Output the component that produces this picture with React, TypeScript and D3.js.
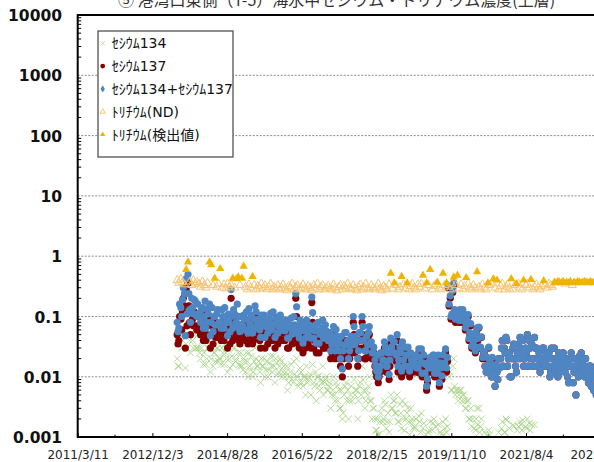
import { useEffect, useRef } from "react";
import * as d3 from "d3";

// sampling dates, 1st and 15th of each month
const sampleDates = [
  "2013/7/1","2013/7/15","2013/8/1","2013/8/15","2013/9/1","2013/9/15","2013/10/1","2013/10/15","2013/11/1","2013/11/15","2013/12/1","2013/12/15",
  "2014/1/1","2014/1/15","2014/2/1","2014/2/15","2014/3/1","2014/3/15","2014/4/1","2014/4/15","2014/5/1","2014/5/15","2014/6/1","2014/6/15",
  "2014/7/1","2014/7/15","2014/8/1","2014/8/15","2014/9/1","2014/9/15","2014/10/1","2014/10/15","2014/11/1","2014/11/15","2014/12/1","2014/12/15",
  "2015/1/1","2015/1/15","2015/2/1","2015/2/15","2015/3/1","2015/3/15","2015/4/1","2015/4/15","2015/5/1","2015/5/15","2015/6/1","2015/6/15",
  "2015/7/1","2015/7/15","2015/8/1","2015/8/15","2015/9/1","2015/9/15","2015/10/1","2015/10/15","2015/11/1","2015/11/15","2015/12/1","2015/12/15",
  "2016/1/1","2016/1/15","2016/2/1","2016/2/15","2016/3/1","2016/3/15","2016/4/1","2016/4/15","2016/5/1","2016/5/15","2016/6/1","2016/6/15",
  "2016/7/1","2016/7/15","2016/8/1","2016/8/15","2016/9/1","2016/9/15","2016/10/1","2016/10/15","2016/11/1","2016/11/15","2016/12/1","2016/12/15",
  "2017/1/1","2017/1/15","2017/2/1","2017/2/15","2017/3/1","2017/3/15","2017/4/1","2017/4/15","2017/5/1","2017/5/15","2017/6/1","2017/6/15",
  "2017/7/1","2017/7/15","2017/8/1","2017/8/15","2017/9/1","2017/9/15","2017/10/1","2017/10/15","2017/11/1","2017/11/15","2017/12/1","2017/12/15",
  "2018/1/1","2018/1/15","2018/2/1","2018/2/15","2018/3/1","2018/3/15","2018/4/1","2018/4/15","2018/5/1","2018/5/15","2018/6/1","2018/6/15",
  "2018/7/1","2018/7/15","2018/8/1","2018/8/15","2018/9/1","2018/9/15","2018/10/1","2018/10/15","2018/11/1","2018/11/15","2018/12/1","2018/12/15",
  "2019/1/1","2019/1/15","2019/2/1","2019/2/15","2019/3/1","2019/3/15","2019/4/1","2019/4/15","2019/5/1","2019/5/15","2019/6/1","2019/6/15",
  "2019/7/1","2019/7/15","2019/8/1","2019/8/15","2019/9/1","2019/9/15","2019/10/1","2019/10/15","2019/11/1","2019/11/15","2019/12/1","2019/12/15",
  "2020/1/1","2020/1/15","2020/2/1","2020/2/15","2020/3/1","2020/3/15","2020/4/1","2020/4/15","2020/5/1","2020/5/15","2020/6/1","2020/6/15",
  "2020/7/1","2020/7/15","2020/8/1","2020/8/15","2020/9/1","2020/9/15","2020/10/1","2020/10/15","2020/11/1","2020/11/15","2020/12/1","2020/12/15",
  "2021/1/1","2021/1/15","2021/2/1","2021/2/15","2021/3/1","2021/3/15","2021/4/1","2021/4/15","2021/5/1","2021/5/15","2021/6/1","2021/6/15",
  "2021/7/1","2021/7/15","2021/8/1","2021/8/15","2021/9/1","2021/9/15","2021/10/1","2021/10/15","2021/11/1","2021/11/15","2021/12/1","2021/12/15",
  "2022/1/1","2022/1/15","2022/2/1","2022/2/15","2022/3/1","2022/3/15","2022/4/1","2022/4/15","2022/5/1","2022/5/15","2022/6/1","2022/6/15",
  "2022/7/1","2022/7/15","2022/8/1","2022/8/15","2022/9/1","2022/9/15","2022/10/1","2022/10/15","2022/11/1","2022/11/15","2022/12/1","2022/12/15",
  "2023/1/1","2023/1/15","2023/2/1","2023/2/15","2023/3/1","2023/3/15",
];

// Bq/L, null = not detected
const cs134 = [
  0.02, 0.015, 0.05, 0.04, 0.06, 0.14, 0.12, 0.04, 0.07, 0.03, 0.05, 0.03,
  0.03, 0.02, 0.04, 0.025, 0.016, 0.03, 0.04, 0.02, 0.015, 0.025, 0.03, 0.018,
  0.02, 0.03, 0.016, 0.025, 0.012, 0.02, 0.06, 0.016, 0.03, 0.02, 0.025, 0.015,
  0.015, 0.02, 0.012, 0.018, 0.025, 0.013, 0.01, 0.018, 0.02, 0.015, 0.012, 0.02,
  0.015, 0.01, 0.018, 0.013, 0.022, 0.012, 0.015, 0.02, 0.011, 0.015, 0.018, 0.012,
  0.01, 0.015, 0.008, 0.012, 0.009, 0.018, 0.03, 0.01, 0.008, 0.012, 0.007, 0.01,
  0.015, 0.009, 0.011, 0.03, 0.008, 0.012, 0.01, 0.007, 0.009, 0.015, 0.008, 0.01,
  0.006, 0.008, 0.005, 0.01, 0.004, 0.007, 0.006, 0.003, 0.002, 0.005, 0.008, 0.006,
  0.004, 0.007, 0.02, 0.005, 0.006, 0.004, 0.008, 0.015, 0.006, 0.004, 0.005, 0.01,
  0.004, 0.003, 0.002, 0.0013, 0.0011, 0.0018, 0.003, 0.002, 0.0035, 0.0018, 0.0012, 0.005,
  0.003, 0.004, 0.0025, 0.0018, 0.0035, 0.0014, 0.002, 0.0035, 0.0025, 0.0018, 0.003, 0.002,
  0.0015, 0.002, null, 0.0018, 0.0025, 0.0014, null, null, 0.0012, 0.0018, 0.0013, 0.002,
  0.0015, null, null, 0.0011, 0.0018, 0.0014, 0.0012, 0.02, 0.012, 0.006, 0.02, 0.005,
  0.006, 0.005, 0.006, 0.005, 0.004, 0.003, 0.004, 0.002, 0.0015, null, 0.0013, 0.003,
  0.003, 0.0015, null, 0.0012, null, null, 0.0011, null, null, null, null, 0.0012,
  null, 0.0018, 0.0012, 0.002, null, 0.0014, null, 0.0016, null, null, 0.0015, 0.0018,
  0.0013, null, 0.0015, 0.002, 0.0017, null, null, 0.0016, null, null, null, null,
  null, null, null, null, null, null, null, null, null, null, null, null,
  null, null, null, null, null, null, null, null, null, null, null, null,
  null, null, null, null, null, null,
];

const cs137 = [
  0.05, 0.04, 0.09, 0.12, 0.15, 0.28, 0.36, 0.08, 0.13, 0.07, 0.11, 0.06,
  0.07, 0.05, 0.09, 0.06, 0.04, 0.08, 0.1, 0.05, 0.035, 0.06, 0.07, 0.045,
  0.05, 0.08, 0.04, 0.06, 0.03, 0.05, 0.2, 0.04, 0.07, 0.05, 0.06, 0.035,
  0.05, 0.07, 0.04, 0.06, 0.09, 0.045, 0.035, 0.06, 0.08, 0.05, 0.04, 0.07,
  0.055, 0.03, 0.06, 0.045, 0.075, 0.04, 0.05, 0.065, 0.035, 0.05, 0.06, 0.04,
  0.04, 0.06, 0.03, 0.05, 0.035, 0.07, 0.2, 0.04, 0.03, 0.05, 0.025, 0.04,
  0.06, 0.035, 0.045, 0.17, 0.03, 0.05, 0.04, 0.025, 0.035, 0.06, 0.03, 0.04,
  0.03, 0.04, 0.025, 0.05, 0.02, 0.035, 0.03, 0.015, 0.01, 0.025, 0.04, 0.03,
  0.02, 0.035, 0.08, 0.025, 0.03, 0.02, 0.04, 0.08, 0.03, 0.02, 0.025, 0.05,
  0.03, 0.02, 0.015, 0.01, 0.008, 0.012, 0.02, 0.015, 0.025, 0.012, 0.009, 0.035,
  0.02, 0.03, 0.018, 0.012, 0.025, 0.01, 0.015, 0.025, 0.018, 0.012, 0.02, 0.015,
  0.015, 0.02, 0.012, 0.018, 0.025, 0.015, 0.01, 0.006, 0.012, 0.018, 0.014, 0.02,
  0.016, 0.01, 0.007, 0.012, 0.02, 0.015, 0.012, 0.3, 0.2, 0.1, 0.33, 0.08,
  0.1, 0.08, 0.11, 0.12, 0.09, 0.07, 0.1, 0.05, 0.03, 0.035, 0.025, 0.06,
  0.065, 0.03, 0.02, 0.025, 0.012, 0.015, 0.018, 0.01, 0.015, 0.007, 0.012, 0.02,
  0.02, 0.04, 0.03, 0.045, 0.015, 0.025, 0.01, 0.03, 0.02, 0.012, 0.035, 0.045,
  0.025, 0.015, 0.03, 0.05, 0.04, 0.02, 0.015, 0.045, 0.03, 0.02, 0.012, 0.018,
  0.03, 0.02, 0.015, 0.025, 0.012, 0.02, 0.03, 0.018, 0.01, 0.015, 0.02, 0.025,
  0.012, 0.018, 0.008, 0.015, 0.02, 0.012, 0.005, 0.015, 0.022, 0.025, 0.012, 0.01,
  0.012, 0.008, 0.015, 0.01, 0.006, 0.009,
];

const csTotal = [
  0.08, 0.064, 0.14, 0.19, 0.24, 0.42, 0.5, 0.13, 0.2, 0.11, 0.18, 0.1,
  0.11, 0.08, 0.14, 0.1, 0.064, 0.13, 0.16, 0.08, 0.056, 0.1, 0.11, 0.072,
  0.08, 0.13, 0.064, 0.1, 0.048, 0.08, 0.28, 0.064, 0.11, 0.08, 0.1, 0.056,
  0.075, 0.105, 0.06, 0.09, 0.135, 0.068, 0.053, 0.09, 0.12, 0.075, 0.06, 0.105,
  0.083, 0.045, 0.09, 0.068, 0.113, 0.06, 0.075, 0.098, 0.053, 0.075, 0.09, 0.06,
  0.058, 0.087, 0.044, 0.073, 0.051, 0.1, 0.24, 0.058, 0.044, 0.073, 0.036, 0.058,
  0.087, 0.051, 0.065, 0.21, 0.044, 0.073, 0.058, 0.036, 0.051, 0.087, 0.044, 0.058,
  0.04, 0.054, 0.034, 0.068, 0.027, 0.047, 0.04, 0.02, 0.0135, 0.034, 0.054, 0.04,
  0.027, 0.047, 0.1, 0.034, 0.04, 0.027, 0.054, 0.1, 0.04, 0.027, 0.034, 0.068,
  0.038, 0.025, 0.019, 0.0125, 0.01, 0.015, 0.025, 0.019, 0.031, 0.015, 0.011, 0.044,
  0.025, 0.038, 0.023, 0.015, 0.031, 0.0125, 0.019, 0.031, 0.023, 0.015, 0.025, 0.019,
  0.017, 0.023, 0.014, 0.021, 0.029, 0.017, 0.0115, 0.007, 0.014, 0.021, 0.016, 0.023,
  0.018, 0.0115, 0.008, 0.014, 0.023, 0.017, 0.014, 0.33, 0.22, 0.11, 0.36, 0.09,
  0.108, 0.086, 0.12, 0.13, 0.097, 0.076, 0.108, 0.054, 0.032, 0.038, 0.027, 0.065,
  0.067, 0.031, 0.021, 0.026, 0.012, 0.015, 0.018, 0.01, 0.015, 0.007, 0.012, 0.02,
  0.02, 0.04, 0.03, 0.045, 0.015, 0.025, 0.01, 0.03, 0.02, 0.012, 0.035, 0.045,
  0.025, 0.015, 0.03, 0.05, 0.04, 0.02, 0.015, 0.045, 0.03, 0.02, 0.012, 0.018,
  0.03, 0.02, 0.015, 0.025, 0.012, 0.02, 0.03, 0.018, 0.01, 0.015, 0.02, 0.025,
  0.012, 0.018, 0.008, 0.015, 0.02, 0.012, 0.005, 0.015, 0.022, 0.025, 0.012, 0.01,
  0.012, 0.008, 0.015, 0.01, 0.006, 0.009,
];

// in-between cesium samples, 8th and 22nd of each month
const sampleDatesWk = [
  "2013/7/8","2013/7/22","2013/8/8","2013/8/22","2013/9/8","2013/9/22","2013/10/8","2013/10/22","2013/11/8","2013/11/22","2013/12/8","2013/12/22",
  "2014/1/8","2014/1/22","2014/2/8","2014/2/22","2014/3/8","2014/3/22","2014/4/8","2014/4/22","2014/5/8","2014/5/22","2014/6/8","2014/6/22",
  "2014/7/8","2014/7/22","2014/8/8","2014/8/22","2014/9/8","2014/9/22","2014/10/8","2014/10/22","2014/11/8","2014/11/22","2014/12/8","2014/12/22",
  "2015/1/8","2015/1/22","2015/2/8","2015/2/22","2015/3/8","2015/3/22","2015/4/8","2015/4/22","2015/5/8","2015/5/22","2015/6/8","2015/6/22",
  "2015/7/8","2015/7/22","2015/8/8","2015/8/22","2015/9/8","2015/9/22","2015/10/8","2015/10/22","2015/11/8","2015/11/22","2015/12/8","2015/12/22",
  "2016/1/8","2016/1/22","2016/2/8","2016/2/22","2016/3/8","2016/3/22","2016/4/8","2016/4/22","2016/5/8","2016/5/22","2016/6/8","2016/6/22",
  "2016/7/8","2016/7/22","2016/8/8","2016/8/22","2016/9/8","2016/9/22","2016/10/8","2016/10/22","2016/11/8","2016/11/22","2016/12/8","2016/12/22",
  "2017/1/8","2017/1/22","2017/2/8","2017/2/22","2017/3/8","2017/3/22","2017/4/8","2017/4/22","2017/5/8","2017/5/22","2017/6/8","2017/6/22",
  "2017/7/8","2017/7/22","2017/8/8","2017/8/22","2017/9/8","2017/9/22","2017/10/8","2017/10/22","2017/11/8","2017/11/22","2017/12/8","2017/12/22",
  "2018/1/8","2018/1/22","2018/2/8","2018/2/22","2018/3/8","2018/3/22","2018/4/8","2018/4/22","2018/5/8","2018/5/22","2018/6/8","2018/6/22",
  "2018/7/8","2018/7/22","2018/8/8","2018/8/22","2018/9/8","2018/9/22","2018/10/8","2018/10/22","2018/11/8","2018/11/22","2018/12/8","2018/12/22",
  "2019/1/8","2019/1/22","2019/2/8","2019/2/22","2019/3/8","2019/3/22","2019/4/8","2019/4/22","2019/5/8","2019/5/22","2019/6/8","2019/6/22",
  "2019/7/8","2019/7/22","2019/8/8","2019/8/22","2019/9/8","2019/9/22","2019/10/8","2019/10/22","2019/11/8","2019/11/22","2019/12/8","2019/12/22",
  "2020/1/8","2020/1/22","2020/2/8","2020/2/22","2020/3/8","2020/3/22","2020/4/8","2020/4/22","2020/5/8","2020/5/22","2020/6/8","2020/6/22",
  "2020/7/8","2020/7/22","2020/8/8","2020/8/22","2020/9/8","2020/9/22","2020/10/8","2020/10/22","2020/11/8","2020/11/22","2020/12/8","2020/12/22",
  "2021/1/8","2021/1/22","2021/2/8","2021/2/22","2021/3/8","2021/3/22","2021/4/8","2021/4/22","2021/5/8","2021/5/22","2021/6/8","2021/6/22",
  "2021/7/8","2021/7/22","2021/8/8","2021/8/22","2021/9/8","2021/9/22","2021/10/8","2021/10/22","2021/11/8","2021/11/22","2021/12/8","2021/12/22",
  "2022/1/8","2022/1/22","2022/2/8","2022/2/22","2022/3/8","2022/3/22","2022/4/8","2022/4/22","2022/5/8","2022/5/22","2022/6/8","2022/6/22",
  "2022/7/8","2022/7/22","2022/8/8","2022/8/22","2022/9/8","2022/9/22","2022/10/8","2022/10/22","2022/11/8","2022/11/22","2022/12/8","2022/12/22",
  "2023/1/8","2023/1/22","2023/2/8","2023/2/22","2023/3/8","2023/3/22",
];

const cs134Wk = [
  0.015, 0.05, 0.03, 0.09, 0.014, 0.03, 0.07, 0.025, 0.04, 0.06, 0.03, 0.05,
  0.025, 0.03, 0.016, 0.04, 0.02, 0.03, 0.012, 0.035, 0.025, 0.018, 0.03, 0.02,
  0.016, 0.025, 0.035, 0.02, 0.028, 0.014, 0.022, 0.03, 0.018, 0.04, 0.016, 0.025,
  0.013, 0.018, 0.025, 0.01, 0.015, 0.022, 0.012, 0.03, 0.015, 0.018, 0.008, 0.015,
  0.02, 0.013, 0.01, 0.017, 0.015, 0.022, 0.008, 0.017, 0.012, 0.02, 0.01, 0.015,
  0.012, 0.006, 0.01, 0.016, 0.008, 0.011, 0.02, 0.007, 0.014, 0.008, 0.01, 0.005,
  0.008, 0.01, 0.005, 0.016, 0.007, 0.004, 0.01, 0.006, 0.008, 0.005, 0.009, 0.006,
  0.007, 0.003, 0.006, 0.005, 0.008, 0.004, 0.003, 0.006, 0.0025, 0.007, 0.004, 0.002,
  0.005, 0.004, 0.009, 0.006, 0.002, 0.007, 0.005, 0.009, 0.003, 0.006, 0.007, 0.004,
  0.002, 0.003, 0.0013, 0.002, 0.0011, 0.0025, 0.0018, 0.004, 0.0014, 0.0025, 0.0018, 0.003,
  0.004, 0.0025, 0.005, 0.0018, 0.0025, 0.004, 0.0013, 0.002, 0.003, 0.0011, 0.0018, 0.0014,
  0.0014, null, 0.0022, 0.0012, null, 0.0017, 0.0011, null, 0.0013, null, 0.0017, null,
  null, 0.0016, 0.0012, null, 0.0011, 0.002, 0.0015, 0.01, 0.006, 0.015, 0.007, 0.006,
  0.004, 0.006, 0.004, 0.005, 0.003, 0.004, 0.002, 0.003, 0.002, 0.0014, 0.002, 0.0016,
  0.0012, 0.002, null, null, 0.0011, 0.0013, null, null, null, null, null, null,
  0.0014, null, 0.0012, 0.0019, null, null, null, 0.0015, null, 0.0013, null, 0.0016,
  0.0019, null, 0.0014, null, 0.0013, 0.0016, null, null, null, null, null, null,
  null, null, null, null, null, null, null, null, null, null, null, null,
  null, null, null, null, null, null, null, null, null, null, null, null,
  null, null, null, null, null, null,
];

const cs137Wk = [
  0.035, 0.1, 0.06, 0.2, 0.03, 0.07, 0.15, 0.05, 0.09, 0.12, 0.07, 0.1,
  0.06, 0.08, 0.04, 0.11, 0.05, 0.07, 0.03, 0.09, 0.06, 0.045, 0.08, 0.05,
  0.04, 0.065, 0.09, 0.05, 0.07, 0.035, 0.06, 0.08, 0.045, 0.1, 0.04, 0.06,
  0.045, 0.06, 0.08, 0.035, 0.05, 0.07, 0.04, 0.1, 0.05, 0.06, 0.03, 0.05,
  0.07, 0.045, 0.035, 0.06, 0.05, 0.08, 0.03, 0.06, 0.045, 0.07, 0.04, 0.055,
  0.05, 0.03, 0.045, 0.065, 0.04, 0.05, 0.1, 0.035, 0.06, 0.04, 0.05, 0.03,
  0.045, 0.05, 0.03, 0.08, 0.04, 0.025, 0.055, 0.035, 0.045, 0.03, 0.05, 0.035,
  0.04, 0.02, 0.035, 0.03, 0.045, 0.025, 0.02, 0.035, 0.02, 0.04, 0.025, 0.015,
  0.03, 0.025, 0.05, 0.035, 0.015, 0.04, 0.03, 0.05, 0.02, 0.035, 0.04, 0.025,
  0.02, 0.025, 0.012, 0.018, 0.01, 0.02, 0.015, 0.03, 0.012, 0.02, 0.015, 0.025,
  0.03, 0.02, 0.04, 0.015, 0.02, 0.03, 0.012, 0.018, 0.025, 0.01, 0.015, 0.012,
  0.018, 0.012, 0.025, 0.015, 0.01, 0.02, 0.014, 0.008, 0.016, 0.012, 0.02, 0.01,
  0.012, 0.02, 0.015, 0.009, 0.014, 0.025, 0.018, 0.15, 0.09, 0.25, 0.12, 0.1,
  0.09, 0.12, 0.08, 0.1, 0.06, 0.08, 0.04, 0.07, 0.045, 0.03, 0.05, 0.04,
  0.03, 0.045, 0.025, 0.015, 0.02, 0.03, 0.012, 0.02, 0.01, 0.016, 0.009, 0.014,
  0.03, 0.015, 0.025, 0.04, 0.02, 0.01, 0.02, 0.035, 0.015, 0.025, 0.02, 0.03,
  0.04, 0.02, 0.025, 0.015, 0.03, 0.035, 0.02, 0.03, 0.015, 0.025, 0.02, 0.03,
  0.015, 0.025, 0.02, 0.01, 0.03, 0.015, 0.012, 0.02, 0.025, 0.012, 0.018, 0.015,
  0.02, 0.01, 0.015, 0.025, 0.008, 0.015, 0.02, 0.01, 0.012, 0.018, 0.015, 0.02,
  0.01, 0.015, 0.007, 0.012, 0.01, 0.005,
];

const csTotalWk = [
  0.056, 0.16, 0.1, 0.3, 0.048, 0.11, 0.24, 0.08, 0.14, 0.19, 0.11, 0.16,
  0.1, 0.13, 0.064, 0.18, 0.08, 0.11, 0.048, 0.14, 0.1, 0.072, 0.13, 0.08,
  0.064, 0.1, 0.14, 0.08, 0.11, 0.056, 0.1, 0.13, 0.072, 0.16, 0.064, 0.1,
  0.068, 0.09, 0.12, 0.053, 0.075, 0.105, 0.06, 0.15, 0.075, 0.09, 0.045, 0.075,
  0.105, 0.068, 0.053, 0.09, 0.075, 0.12, 0.045, 0.09, 0.068, 0.105, 0.06, 0.083,
  0.073, 0.044, 0.065, 0.094, 0.058, 0.073, 0.145, 0.051, 0.087, 0.058, 0.073, 0.044,
  0.065, 0.073, 0.044, 0.116, 0.058, 0.036, 0.08, 0.051, 0.065, 0.044, 0.073, 0.051,
  0.054, 0.027, 0.047, 0.04, 0.061, 0.034, 0.027, 0.047, 0.027, 0.054, 0.034, 0.02,
  0.04, 0.034, 0.068, 0.047, 0.02, 0.054, 0.04, 0.068, 0.027, 0.047, 0.054, 0.034,
  0.025, 0.031, 0.015, 0.023, 0.0125, 0.025, 0.019, 0.038, 0.015, 0.025, 0.019, 0.031,
  0.038, 0.025, 0.05, 0.019, 0.025, 0.038, 0.015, 0.023, 0.031, 0.0125, 0.019, 0.015,
  0.021, 0.014, 0.029, 0.017, 0.0115, 0.023, 0.016, 0.0092, 0.018, 0.014, 0.023, 0.0115,
  0.014, 0.023, 0.017, 0.0104, 0.016, 0.029, 0.021, 0.16, 0.1, 0.27, 0.13, 0.11,
  0.097, 0.13, 0.086, 0.108, 0.065, 0.086, 0.043, 0.076, 0.049, 0.032, 0.054, 0.043,
  0.031, 0.046, 0.026, 0.015, 0.021, 0.031, 0.012, 0.021, 0.01, 0.016, 0.009, 0.014,
  0.03, 0.015, 0.025, 0.04, 0.02, 0.01, 0.02, 0.035, 0.015, 0.025, 0.02, 0.03,
  0.04, 0.02, 0.025, 0.015, 0.03, 0.035, 0.02, 0.03, 0.015, 0.025, 0.02, 0.03,
  0.015, 0.025, 0.02, 0.01, 0.03, 0.015, 0.012, 0.02, 0.025, 0.012, 0.018, 0.015,
  0.02, 0.01, 0.015, 0.025, 0.008, 0.015, 0.02, 0.01, 0.012, 0.018, 0.015, 0.02,
  0.01, 0.015, 0.007, 0.012, 0.01, 0.005,
];

// tritium, on the 1st/15th sampling dates
const tritiumND = [
  0.4, 0.36, 0.42, 0.37, 0.34, null, null, 0.38, 0.33, 0.4, 0.35, 0.37,
  0.35, 0.31, 0.38, 0.33, 0.3, 0.36, null, null, 0.33, null, 0.31, 0.35,
  null, 0.3, 0.34, 0.29, 0.35, 0.31, 0.33, null, 0.3, null, null, 0.33,
  null, null, 0.31, 0.28, 0.34, 0.3, null, 0.33, 0.28, 0.32, 0.29, 0.35,
  0.3, 0.33, 0.28, 0.31, 0.35, 0.28, 0.31, 0.29, 0.33, 0.28, 0.3, 0.34,
  0.29, 0.27, 0.32, 0.3, 0.35, 0.28, 0.31, 0.33, 0.28, 0.3, 0.34, 0.29,
  0.28, 0.32, 0.3, 0.27, 0.33, 0.29, 0.35, 0.28, 0.31, 0.33, 0.28, 0.3,
  0.32, 0.29, 0.28, 0.34, 0.3, 0.27, 0.31, 0.33, 0.28, 0.32, 0.29, 0.35,
  0.3, 0.28, 0.33, 0.29, 0.27, 0.31, 0.34, 0.28, 0.3, 0.35, 0.29, 0.28,
  0.33, 0.3, 0.28, 0.31, 0.35, 0.29, 0.27, 0.32, 0.3, 0.28, 0.34, null,
  0.29, null, 0.33, 0.28, 0.31, null, 0.34, 0.29, null, 0.28, 0.32, 0.35,
  0.3, 0.28, 0.34, 0.31, 0.35, null, 0.29, null, 0.33, null, 0.28, 0.32,
  0.34, null, 0.3, 0.28, null, 0.33, null, 0.31, 0.28, 0.35, null, 0.33,
  null, 0.29, 0.34, 0.28, 0.32, null, 0.35, 0.3, 0.28, 0.33, 0.3, null,
  0.31, 0.28, 0.34, 0.3, 0.28, null, 0.33, 0.35, null, 0.3, null, 0.28,
  0.32, 0.35, 0.28, 0.31, 0.34, 0.29, null, 0.28, 0.33, null, 0.35, 0.3,
  0.28, null, 0.33, 0.35, 0.3, null, 0.28, 0.31, 0.34, 0.3, 0.28, 0.32,
  null, 0.34, 0.3, 0.35, 0.33, 0.31, null, null, null, null, null, null,
  0.35, null, null, null, 0.33, null, null, null, null, null, null, null,
  null, null, null, null, null, null,
];

const tritiumDetected = [
  null, null, null, null, null, 0.6, 0.8, null, null, null, null, null,
  null, null, null, null, null, null, 0.8, 0.72, null, 0.43, null, null,
  0.62, null, null, null, null, null, null, 0.43, null, 0.42, 0.45, null,
  0.43, 0.68, null, null, null, null, 0.46, null, null, null, null, null,
  null, null, null, null, null, null, null, null, null, null, null, null,
  null, null, null, null, null, null, null, null, null, null, null, null,
  null, null, null, null, null, null, null, null, null, null, null, null,
  null, null, null, null, null, null, null, null, null, null, null, null,
  null, null, null, null, null, null, null, null, null, null, null, null,
  null, null, null, null, null, null, null, null, null, null, null, 0.52,
  null, 0.36, null, null, null, 0.46, null, null, 0.36, null, null, null,
  null, null, null, null, null, 0.48, null, 0.36, null, 0.6, null, null,
  null, 0.37, null, null, 0.52, null, 0.36, null, null, null, 0.45, null,
  0.48, null, null, null, null, 0.44, null, null, null, null, null, 0.55,
  null, null, null, null, null, 0.36, null, null, 0.42, null, 0.4, null,
  null, null, null, null, null, null, 0.42, null, null, 0.35, null, null,
  null, 0.4, null, null, null, 0.41, null, null, null, null, null, null,
  0.39, null, null, null, null, null, 0.37, 0.36, 0.38, 0.37, 0.36, 0.38,
  null, 0.37, 0.36, 0.38, null, 0.37, 0.36, 0.38, 0.37, 0.36, 0.37, 0.38,
  0.37, 0.36, 0.38, 0.37, 0.36, 0.37,
];

const xTickLabels = ["2011/3/11", "2012/12/3", "2014/8/28", "2016/5/22", "2018/2/15", "2019/11/10", "2021/8/4", "2023/4/29"];
const yTickValues = [10000, 1000, 100, 10, 1, 0.1, 0.01, 0.001];
const yTickLabels = ["10000", "1000", "100", "10", "1", "0.1", "0.01", "0.001"];
const legendLabels = ["ｾｼｳﾑ134", "ｾｼｳﾑ137", "ｾｼｳﾑ134+ｾｼｳﾑ137", "ﾄﾘﾁｳﾑ(ND)", "ﾄﾘﾁｳﾑ(検出値)"];
const title = "⑤ 港湾口東側（T-5）海水中セシウム・トリチウム濃度(上層)";

const W = 594;
const H = 462;

export default function App() {
  const ref = useRef<SVGSVGElement>(null);

  useEffect(() => {
    const svg = d3.select(ref.current);
    svg.selectAll("*").remove();

    const parse = d3.utcParse("%Y/%m/%d");
    const margin = { left: 77.7, top: 15, bottom: 437.1, right: 640 };

    const x = d3.scaleUtc()
      .domain([parse(xTickLabels[0])!, parse(xTickLabels[xTickLabels.length - 1])!])
      .range([margin.left, 600.7]);
    const y = d3.scaleLog().domain([0.001, 10000]).range([margin.bottom, margin.top]);

    const rows = sampleDates.map((d, i) => ({
      date: parse(d)!,
      cs134: cs134[i], cs137: cs137[i], total: csTotal[i],
      nd: tritiumND[i], det: tritiumDetected[i],
    }));
    const rowsWk = sampleDatesWk.map((d, i) => ({
      date: parse(d)!,
      cs134: cs134Wk[i], cs137: cs137Wk[i], total: csTotalWk[i],
      nd: null, det: null,
    }));
    const cesium = d3.sort([...rows, ...rowsWk], d => d.date);

    svg.append("text")
      .attr("x", 118).attr("y", 5.5)
      .attr("font-family", "'Noto Sans CJK JP', sans-serif")
      .attr("font-size", 16).attr("fill", "#333")
      .text(title);

    // gridlines
    svg.append("g").selectAll("line")
      .data([1000, 100, 10, 1, 0.1, 0.01])
      .join("line")
      .attr("x1", margin.left).attr("x2", margin.right)
      .attr("y1", d => y(d)).attr("y2", d => y(d))
      .attr("stroke", "#8c8c8c").attr("stroke-width", 1)
      .attr("stroke-dasharray", "2,1.5");

    // minor y ticks (inside)
    const minor: number[] = [];
    for (let e = -3; e < 4; e++) for (let m = 2; m < 10; m++) minor.push(m * Math.pow(10, e));
    svg.append("g").selectAll("line").data(minor).join("line")
      .attr("x1", margin.left).attr("x2", margin.left + 3.5)
      .attr("y1", d => y(d)).attr("y2", d => y(d))
      .attr("stroke", "#000").attr("stroke-width", 1);

    // y axis labels
    const yAxis = d3.axisLeft(y)
      .tickValues(yTickValues)
      .tickFormat((d, i) => yTickLabels[i])
      .tickSize(0).tickPadding(15.7);
    const yg = svg.append("g").attr("transform", `translate(${margin.left},0)`).call(yAxis);
    yg.select(".domain").remove();
    yg.selectAll("text")
      .attr("font-family", "'DejaVu Sans', sans-serif")
      .attr("font-weight", "bold").attr("font-size", 15.5).attr("fill", "#111")
      .attr("dy", "0.36em");

    // x axis
    const majors = xTickLabels.map(s => parse(s)!);
    const xAxis = d3.axisBottom(x)
      .tickValues(majors)
      .tickFormat((d, i) => xTickLabels[i])
      .tickSize(-4).tickPadding(13.7);
    const xg = svg.append("g").attr("transform", `translate(0,${margin.bottom})`).call(xAxis);
    xg.select(".domain").remove();
    xg.selectAll("line").attr("stroke", "#000");
    xg.selectAll("text")
      .attr("font-family", "'DejaVu Sans', sans-serif")
      .attr("font-size", 12).attr("fill", "#222");
    const mids = d3.pairs(majors).map(([a, b]) => new Date((+a + +b) / 2));
    svg.append("g").selectAll("line").data(mids).join("line")
      .attr("x1", d => x(d)).attr("x2", d => x(d))
      .attr("y1", margin.bottom).attr("y2", margin.bottom - 2.5)
      .attr("stroke", "#000");

    // data
    const plot = svg.append("g");
    const cross = "M-3.4,-3.4L3.4,3.4M-3.4,3.4L3.4,-3.4";
    plot.append("g").selectAll("path")
      .data(cesium.filter(r => r.cs134 != null))
      .join("path")
      .attr("transform", d => `translate(${x(d.date)},${y(d.cs134!)})`)
      .attr("d", cross)
      .attr("fill", "none").attr("stroke", "#a3d282").attr("stroke-width", 1).attr("opacity", 0.8);

    plot.append("g").selectAll("circle")
      .data(cesium.filter(r => r.cs137 != null))
      .join("circle")
      .attr("cx", d => x(d.date)).attr("cy", d => y(d.cs137!))
      .attr("r", 3.6).attr("fill", "#850000");

    plot.append("g").selectAll("circle")
      .data(cesium.filter(r => r.total != null))
      .join("circle")
      .attr("cx", d => x(d.date)).attr("cy", d => y(d.total!))
      .attr("r", 3.6).attr("fill", "#4e86c4");

    plot.append("g").selectAll("path")
      .data(rows.filter(r => r.nd != null))
      .join("path")
      .attr("transform", d => `translate(${x(d.date)},${y(d.nd!)})`)
      .attr("d", d3.symbol(d3.symbolTriangle, 28)())
      .attr("fill", "none").attr("stroke", "#f6c471").attr("stroke-width", 1);

    plot.append("g").selectAll("path")
      .data(rows.filter(r => r.det != null))
      .join("path")
      .attr("transform", d => `translate(${x(d.date)},${y(d.det!)})`)
      .attr("d", d3.symbol(d3.symbolTriangle, 30)())
      .attr("fill", "#f0b400");

    // frame
    svg.append("path")
      .attr("d", `M${margin.right},${margin.top}H${margin.left}V${margin.bottom}H${margin.right}`)
      .attr("fill", "none").attr("stroke", "#000").attr("stroke-width", 2);

    // legend
    const lg = svg.append("g");
    lg.append("rect")
      .attr("x", 98).attr("y", 31).attr("width", 135).attr("height", 126)
      .attr("fill", "#fff").attr("stroke", "#444").attr("stroke-width", 1.2);
    const rowY = d3.scaleLinear().domain([0, 4]).range([43.3, 134.5]);
    const item = lg.selectAll("g").data(legendLabels).join("g")
      .attr("transform", (d, i) => `translate(102.7,${rowY(i)})`);
    item.append("path")
      .attr("d", (d, i) => {
        if (i === 0) return "M-2.2,-2.2L2.2,2.2M-2.2,2.2L2.2,-2.2";
        if (i === 1) return d3.symbol(d3.symbolCircle, 18)();
        if (i === 2) return d3.symbol(d3.symbolDiamond, 16)();
        return d3.symbol(d3.symbolTriangle, 12)();
      })
      .attr("fill", (d, i) => ["none", "#850000", "#4e86c4", "none", "#f0b400"][i])
      .attr("stroke", (d, i) => ["#c7dfb0", "none", "none", "#f6c471", "none"][i])
      .attr("stroke-width", 1);
    item.append("text")
      .attr("x", 9).attr("dy", "0.36em")
      .attr("font-family", "'DejaVu Sans', 'Noto Sans CJK JP', sans-serif")
      .attr("font-size", 14).attr("fill", "#111")
      .text(d => d);
  }, []);

  return (
    <svg ref={ref} width={W} height={H}
      style={{ position: "absolute", left: 0, top: 0, background: "#fff" }} />
  );
}
